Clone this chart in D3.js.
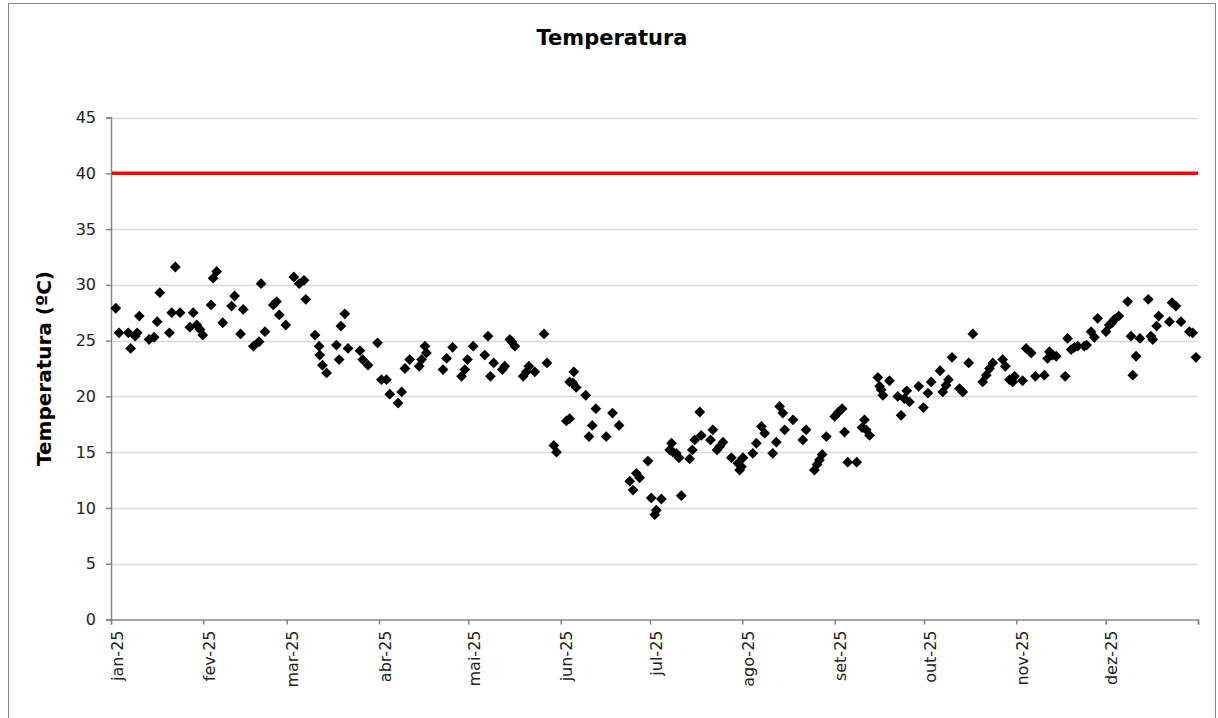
<!DOCTYPE html>
<html>
<head>
<meta charset="utf-8">
<script src="https://cdn.jsdelivr.net/npm/d3@7"></script>
<style>
  html, body { margin: 0; padding: 0; background: #fff; }
  svg { display: block; font-family: "DejaVu Sans", Verdana, sans-serif; }
</style>
</head>
<body>
<svg id="chart" width="1218" height="718"></svg>
<script>
// ---- data ----
const chartTitle = "Temperatura";
const yAxisTitle = "Temperatura (ºC)";
const limitValue = 40;
const yTicks = [0, 5, 10, 15, 20, 25, 30, 35, 40, 45];
const monthLabels = ["jan-25","fev-25","mar-25","abr-25","mai-25","jun-25","jul-25","ago-25","set-25","out-25","nov-25","dez-25"];
// measurement time, in days since 1 Jan 2025
const dayOfYear = [
  1.6,2.7,5.8,6.6,8.1,8.8,9.5,12.8,14.5,15.5,16.4,19.6,20.4,21.6,23.2,26.5,27.6,28.8,29.9,30.8,
  33.6,34.3,35.5,37.5,40.5,41.5,43.5,44.4,47.8,49.7,50.4,51.7,54.5,55.6,56.5,58.7,
  61.4,63.2,64.8,65.4,68.5,69.9,70.1,71.0,72.4,75.7,76.6,77.2,78.5,79.6,83.6,84.5,86.3,89.5,
  90.8,92.5,93.6,96.4,97.6,98.7,100.3,103.5,104.3,105.4,105.9,111.5,112.7,114.7,117.7,118.8,119.7,
  121.6,125.5,126.6,127.4,128.5,131.4,132.2,133.9,134.6,135.6,138.4,139.5,140.3,142.3,145.4,146.4,148.7,149.6,
  152.9,154.0,154.0,155.1,155.4,156.2,159.4,160.5,161.6,162.8,166.3,168.4,170.6,174.2,175.3,176.4,177.5,180.3,
  181.4,182.6,183.1,184.8,187.6,188.2,188.7,189.8,190.7,191.5,194.3,195.2,196.0,197.7,198.2,201.3,202.1,203.5,
  204.4,205.5,208.3,210.5,211.1,211.7,
  212.2,215.5,216.7,218.4,219.5,222.2,223.4,224.5,225.6,226.2,229.0,232.3,233.4,236.2,237.1,237.9,238.8,240.2,
  243.0,244.3,245.5,246.3,247.4,250.4,252.2,253.0,253.6,254.7,257.5,258.1,258.6,259.2,261.4,264.2,265.3,266.4,
  267.2,268.1,271.2,272.8,
  274.3,275.4,278.4,279.3,280.4,281.2,282.4,284.9,286.0,288.0,289.4,292.7,293.9,295.0,296.1,299.4,300.3,301.7,302.8,
  303.4,306.1,307.3,309.0,310.4,313.4,314.5,315.1,316.2,317.4,320.4,321.2,322.4,323.5,324.6,326.8,327.6,329.1,330.2,
  331.3,334.1,335.2,336.1,336.9,338.4,341.4,342.5,343.1,344.2,345.5,348.3,349.2,349.8,351.1,351.8,355.4,356.3,357.6,
  359.3,362.1,363.2,364.3
];
const temperature = [
  27.9,25.7,25.7,24.3,25.4,25.7,27.2,25.1,25.3,26.7,29.3,25.7,27.5,31.6,27.5,26.2,27.5,26.4,26.0,25.5,
  28.2,30.6,31.2,26.6,28.1,29.0,25.6,27.8,24.5,24.9,30.1,25.8,28.2,28.5,27.3,26.4,
  30.7,30.1,30.4,28.7,25.5,24.5,23.7,22.8,22.1,24.6,23.3,26.3,27.4,24.3,24.1,23.3,22.8,24.8,
  21.5,21.5,20.2,19.4,20.4,22.5,23.3,22.7,23.3,24.5,23.9,22.4,23.4,24.4,21.8,22.4,23.3,
  24.5,23.7,25.4,21.8,23.0,22.4,22.7,25.1,24.9,24.5,21.8,22.2,22.7,22.2,25.6,23.0,15.6,15.0,
  17.8,18.0,21.3,21.2,22.2,20.8,20.1,16.4,17.4,18.9,16.4,18.5,17.4,12.4,11.6,13.1,12.7,14.2,
  10.9,9.4,9.8,10.8,15.2,15.8,15.0,14.9,14.5,11.1,14.4,15.2,16.1,18.6,16.5,16.1,17.0,15.2,
  15.5,15.9,14.5,14.0,13.4,13.7,
  14.5,14.9,15.8,17.3,16.7,14.9,15.9,19.1,18.5,17.0,17.9,16.1,17.0,13.4,13.9,14.3,14.8,16.4,
  18.2,18.6,18.9,16.8,14.1,14.1,17.2,17.9,17.0,16.5,21.7,20.9,20.6,20.1,21.4,20.0,18.3,19.8,
  20.5,19.5,20.9,19.0,
  20.3,21.3,22.3,20.4,21.0,21.5,23.5,20.7,20.4,23.0,25.6,21.3,21.9,22.5,23.0,23.3,22.7,21.5,21.3,
  21.8,21.4,24.3,23.9,21.8,21.9,23.4,24.0,23.7,23.6,21.8,25.2,24.2,24.4,24.5,24.5,24.6,25.8,25.3,
  27.0,25.8,26.4,26.6,26.9,27.2,28.5,25.4,21.9,23.6,25.2,28.7,25.4,25.1,26.3,27.2,26.7,28.4,28.1,
  26.7,25.8,25.7,23.5
];

// ---- layout ----
const svg = d3.select("#chart");
const plot = { left: 111, right: 1198, top: 117.5, bottom: 619.5 };
const yearStart = new Date(2025, 0, 1);
const yearEnd = new Date(2026, 0, 1);
const points = dayOfYear.map((d, i) => ({ date: new Date(yearStart.getTime() + d * 86400000), value: temperature[i] }));

const x = d3.scaleTime().domain([yearStart, yearEnd]).range([plot.left, plot.right]);
const y = d3.scaleLinear().domain([0, 45]).range([plot.bottom, plot.top]);

const axisColor = "#868686";

// outer chart border
svg.append("rect").attr("x", 8.5).attr("y", 3.5).attr("width", 1207).attr("height", 730)
  .attr("fill", "none").attr("stroke", axisColor).attr("stroke-width", 1);

// gridlines
svg.append("g").selectAll("line").data(yTicks.filter(t => t > 0)).join("line")
  .attr("x1", plot.left).attr("x2", plot.right)
  .attr("y1", d => Math.round(y(d)) + 0.5).attr("y2", d => Math.round(y(d)) + 0.5)
  .attr("stroke", "#d9d9d9").attr("stroke-width", 1.5);

// y axis
const yAxis = d3.axisLeft(y).tickValues(yTicks).tickSize(5).tickPadding(10);
const gy = svg.append("g").attr("transform", `translate(${plot.left},0)`).call(yAxis);
gy.select(".domain").attr("stroke", axisColor).attr("stroke-width", 1.5);
gy.selectAll(".tick line").attr("stroke", axisColor).attr("stroke-width", 1.5);
gy.selectAll(".tick text").attr("fill", "#222").attr("font-size", "16px")
  .attr("font-family", "'DejaVu Sans', Verdana, sans-serif");

// x axis
const monthStarts = d3.timeMonth.range(yearStart, d3.timeDay.offset(yearEnd, 1));
const xAxis = d3.axisBottom(x).tickValues(monthStarts).tickSize(5)
  .tickFormat((d, i) => monthLabels[i] || "");
const gx = svg.append("g").attr("transform", `translate(0,${plot.bottom})`).call(xAxis);
gx.select(".domain").attr("stroke", axisColor).attr("stroke-width", 1.5);
gx.selectAll(".tick line").attr("stroke", axisColor).attr("stroke-width", 1.5);
gx.selectAll(".tick text")
  .attr("fill", "#222").attr("font-size", "16px")
  .attr("font-family", "'DejaVu Sans', Verdana, sans-serif")
  .attr("text-anchor", "end")
  .attr("dy", null)
  .attr("y", 0)
  .attr("transform", "translate(11,11) rotate(-90)");

// limit line
svg.append("line")
  .attr("x1", plot.left + 1).attr("x2", plot.right)
  .attr("y1", y(limitValue)).attr("y2", y(limitValue))
  .attr("stroke", "#ff0000").attr("stroke-width", 3.5);

// scatter markers (diamonds)
const r = 5.4;
svg.append("g").selectAll("path").data(points).join("path")
  .attr("transform", d => `translate(${x(d.date)},${y(d.value)})`)
  .attr("d", `M0,${-r}L${r},0L0,${r}L${-r},0Z`)
  .attr("fill", "#000");

// titles
svg.append("text").attr("x", 612).attr("y", 45).attr("text-anchor", "middle")
  .attr("font-size", "21px").attr("font-weight", "bold").attr("fill", "#000")
  .text(chartTitle);

svg.append("text")
  .attr("transform", `translate(51,${(plot.top + plot.bottom) / 2}) rotate(-90)`)
  .attr("text-anchor", "middle")
  .attr("font-size", "20px").attr("font-weight", "bold").attr("fill", "#000")
  .text(yAxisTitle);
</script>
</body>
</html>
